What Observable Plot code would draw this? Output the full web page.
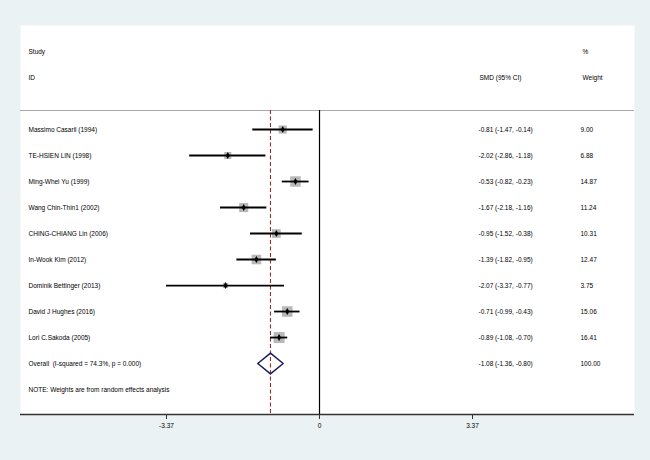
<!DOCTYPE html>
<html>
<head>
<meta charset="utf-8">
<script src="https://cdn.jsdelivr.net/npm/d3@7"></script>
<script src="https://cdn.jsdelivr.net/npm/@observablehq/plot@0.6"></script>
<style>
  html, body { margin: 0; padding: 0; background: #EAF2F3; }
  #chart svg { display: block; }
</style>
</head>
<body>
<div id="chart"></div>
<script>
// ---- data ----
const studies = [
  "Massimo Casaril (1994)",
  "TE-HSIEN LIN (1998)",
  "Ming-Whei Yu (1999)",
  "Wang Chin-Thin1 (2002)",
  "CHING-CHIANG Lin (2006)",
  "In-Wook Kim (2012)",
  "Dominik Bettinger (2013)",
  "David J Hughes (2016)",
  "Lori C.Sakoda (2005)"
];
const smd    = [-0.81, -2.02, -0.53, -1.67, -0.95, -1.39, -2.07, -0.71, -0.89];
const lower  = [-1.47, -2.86, -0.82, -2.18, -1.52, -1.82, -3.37, -0.99, -1.08];
const upper  = [-0.14, -1.18, -0.23, -1.16, -0.38, -0.95, -0.77, -0.43, -0.70];
const weights = [9.00, 6.88, 14.87, 11.24, 10.31, 12.47, 3.75, 15.06, 16.41];

const overallLabel = "Overall  (I-squared = 74.3%, p = 0.000)";
const overallSMD = -1.08, overallLower = -1.36, overallUpper = -0.80, overallWeight = 100.00;
const noteText = "NOTE: Weights are from random effects analysis";

const xTicks = [-3.37, 0, 3.37];
const xTickLabels = ["-3.37", "0", "3.37"];

// ---- layout ----
const yTop = -3, yBottom = 11.96, topLineRow = 0.27, diamondHalf = 0.4;
const fmt = v => v.toFixed(2);

const studyRows = studies.map((s, i) => ({
  row: i + 1, label: s, smd: smd[i], lo: lower[i], hi: upper[i], weight: weights[i],
  ci: `${fmt(smd[i])} (${fmt(lower[i])}, ${fmt(upper[i])})`, w: fmt(weights[i])
}));
const overallRow = {
  row: studies.length + 1, label: overallLabel,
  ci: `${fmt(overallSMD)} (${fmt(overallLower)}, ${fmt(overallUpper)})`, w: fmt(overallWeight)
};
const noteRow = { row: studies.length + 2, label: noteText };
const textRows = [...studyRows, overallRow, noteRow];
const diamond = [
  { x: overallLower, y: overallRow.row },
  { x: overallSMD, y: overallRow.row - diamondHalf },
  { x: overallUpper, y: overallRow.row },
  { x: overallSMD, y: overallRow.row + diamondHalf },
  { x: overallLower, y: overallRow.row }
];
const headers = [
  { row: -2, text: "Study", col: 8 },
  { row: -1, text: "ID", col: 8 },
  { row: -2, text: "%", col: 562 },
  { row: -1, text: "SMD (95% CI)", col: 459 },
  { row: -1, text: "Weight", col: 562 }
];

const chart = Plot.plot({
  width: 650,
  height: 460,
  marginLeft: 20,
  marginRight: 16,
  marginTop: 25,
  marginBottom: 46,
  style: { background: "#EAF2F3", fontFamily: "'Liberation Sans', Arial, sans-serif", fontSize: "6.5px", color: "black" },
  x: { domain: [-6.586, 6.938] },
  y: { domain: [yTop, yBottom], reverse: true, axis: null },
  r: { type: "sqrt", domain: [0, d3.max(weights)], range: [0, 6.2] },
  marks: [
    Plot.frame({ fill: "white", stroke: null }),
    Plot.ruleY([topLineRow], { stroke: "#a8a8a8", strokeWidth: 1 }),
    Plot.ruleX([0], { y1: topLineRow, y2: yBottom, stroke: "black", strokeWidth: 1.2 }),
    Plot.ruleX([overallSMD], { y1: topLineRow, y2: yBottom, stroke: "#9b2a2a", strokeWidth: 1.1, strokeDasharray: "4,2.5" }),
    Plot.dot(studyRows, { x: "smd", y: "row", r: "weight", symbol: "square", fill: "#b8b8b8" }),
    Plot.ruleY(studyRows, { y: "row", x1: "lo", x2: "hi", stroke: "black", strokeWidth: 1.8 }),
    Plot.dot(studyRows, { x: "smd", y: "row", r: 2.1, symbol: "diamond", fill: "black" }),
    Plot.line(diamond, { x: "x", y: "y", stroke: "#1c1c5c", strokeWidth: 1.5 }),
    ...headers.map(h => Plot.text([h], { y: "row", text: "text", frameAnchor: "left", dx: h.col, textAnchor: "start", fill: "black" })),
    Plot.text(textRows, { y: "row", text: "label", frameAnchor: "left", dx: 8, textAnchor: "start", fill: "black" }),
    Plot.text(textRows.filter(d => d.ci), { y: "row", text: "ci", frameAnchor: "left", dx: 458, textAnchor: "start", fill: "black" }),
    Plot.text(textRows.filter(d => d.w), { y: "row", text: "w", frameAnchor: "left", dx: 560, textAnchor: "start", fill: "black" }),
    Plot.axisX({ ticks: xTicks, tickFormat: d => xTickLabels[xTicks.indexOf(d)], tickSize: 5, tickPadding: 4, stroke: "#333", fill: "black", fontSize: "6.5px" }),
    Plot.ruleY([yBottom], { stroke: "#333", strokeWidth: 1.5 })
  ]
});
document.getElementById("chart").appendChild(chart);
</script>
</body>
</html>
